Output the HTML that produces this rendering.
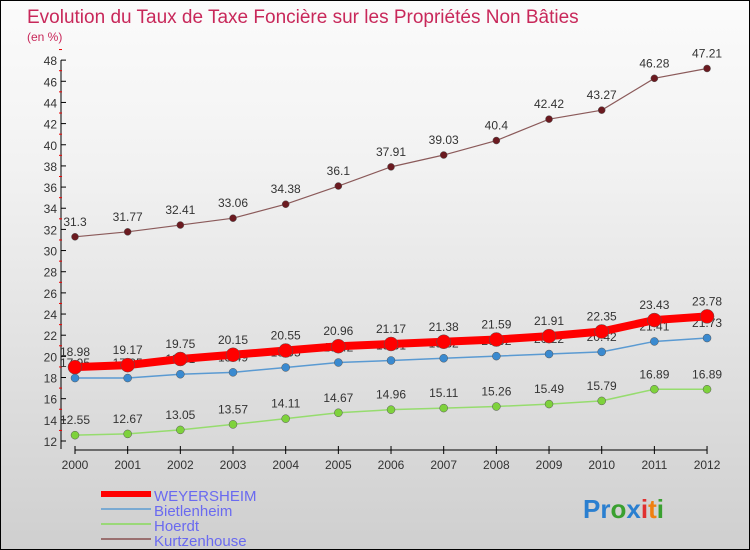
<!DOCTYPE html>
<html><head><meta charset="utf-8"><style>
body{margin:0}
#c{position:relative;width:748px;height:548px;border:1px solid #000;background:linear-gradient(#fbfbfb,#f2f2f2 30%,#cfcfcf);font-family:"Liberation Sans",sans-serif;overflow:hidden}
</style></head><body>
<div id="c">
<svg id="s" width="748" height="548" style="position:absolute;left:0;top:0"></svg>
</div>
<script>
const years=["2000","2001","2002","2003","2004","2005","2006","2007","2008","2009","2010","2011","2012"];
const weyersheim=[18.98,19.17,19.75,20.15,20.55,20.96,21.17,21.38,21.59,21.91,22.35,23.43,23.78];
const bietlenheim=[17.95,17.95,18.31,18.49,18.95,19.42,19.61,19.82,20.02,20.22,20.42,21.41,21.73];
const hoerdt=[12.55,12.67,13.05,13.57,14.11,14.67,14.96,15.11,15.26,15.49,15.79,16.89,16.89];
const kurtzenhouse=[31.3,31.77,32.41,33.06,34.38,36.1,37.91,39.03,40.4,42.42,43.27,46.28,47.21];
const yTicks=[12,14,16,18,20,22,24,26,28,30,32,34,36,38,40,42,44,46,48];
const NS="http://www.w3.org/2000/svg",s=document.getElementById('s');
const X=i=>74+i*52.67, Y=v=>440-(v-12)*10.58;
function el(t,a,p){const e=document.createElementNS(NS,t);for(const k in a)e.setAttribute(k,a[k]);(p||s).appendChild(e);return e;}
function tx(x,y,str,o){const e=el('text',Object.assign({x:x,y:y,'font-size':12,fill:'#333'},o||{}));e.textContent=str;return e;}
let t=tx(26,22,"Evolution du Taux de Taxe Foncière sur les Propriétés Non Bâties",{'font-size':19,fill:'#c8285a'});


t=tx(26,40,"(en %)",{'font-size':12,fill:'#c8285a'});


let ax=el('g',{});


el('line',{x1:60,y1:Y(48),x2:60,y2:Y(12)+8,stroke:'#000'},ax);
yTicks.forEach(v=>{el('line',{x1:60,y1:Y(v),x2:65,y2:Y(v),stroke:'#000'},ax);
 el('line',{x1:58,y1:Y(v+1),x2:61,y2:Y(v+1),stroke:'#e00'},ax);
 tx(56,Y(v)+5,String(v),{'text-anchor':'end','font-size':12,fill:'#333'});});
let xa=el('g',{});


el('line',{x1:X(0),y1:449,x2:X(12),y2:449,stroke:'#000'},xa);
years.forEach((y,i)=>{el('line',{x1:X(i),y1:445,x2:X(i),y2:453,stroke:'#000'},xa);
 tx(X(i),468,y,{'text-anchor':'middle','font-size':12,fill:'#333'});});
function series(name,data,col,w,r,dot){const g=el('g',{});
 
 
 el('polyline',{points:data.map((v,i)=>X(i)+','+Y(v)).join(' '),fill:'none',stroke:col,'stroke-width':w},g);
 data.forEach((v,i)=>{el('circle',{cx:X(i),cy:Y(v),r:r,fill:dot,stroke:'#555','stroke-width':0.5},g);
  tx(X(i),Y(v)-11,String(v),{'text-anchor':'middle','font-size':12,fill:'#333'},g);});}
series('kurtzenhouse',kurtzenhouse,'#8b5a5a',1.2,3.5,'#6b1a20');
series('hoerdt',hoerdt,'#96dc6e',1.5,4,'#7ed23c');
series('bietlenheim',bietlenheim,'#5a9ad2',1.5,4,'#3a8ad0');
series('weyersheim',weyersheim,'#f00',8,7,'#f00');
const leg=[["WEYERSHEIM","#f00",6],["Bietlenheim","#7aaad2",2],["Hoerdt","#9ad878",2],["Kurtzenhouse","#9a7070",2]];
leg.forEach((l,i)=>{const g=el('g',{});
 
 
 const y=493+i*15;el('line',{x1:100,y1:y,x2:150,y2:y,stroke:l[1],'stroke-width':l[2]},g);
 tx(153,y+7,l[0],{'font-size':15,fill:'#6a6af0'},g);});
const lg=el('text',{x:582,y:517,'font-size':26,'font-weight':'bold'});


[["Pr","#2a7fd0"],["o","#3aa030"],["x","#2a7fd0"],["i","#e03030"],["t","#f08010"],["i","#3aa030"]].forEach(p=>{const ts=el('tspan',{fill:p[1]},lg);ts.textContent=p[0];});
</script>
</body></html>
